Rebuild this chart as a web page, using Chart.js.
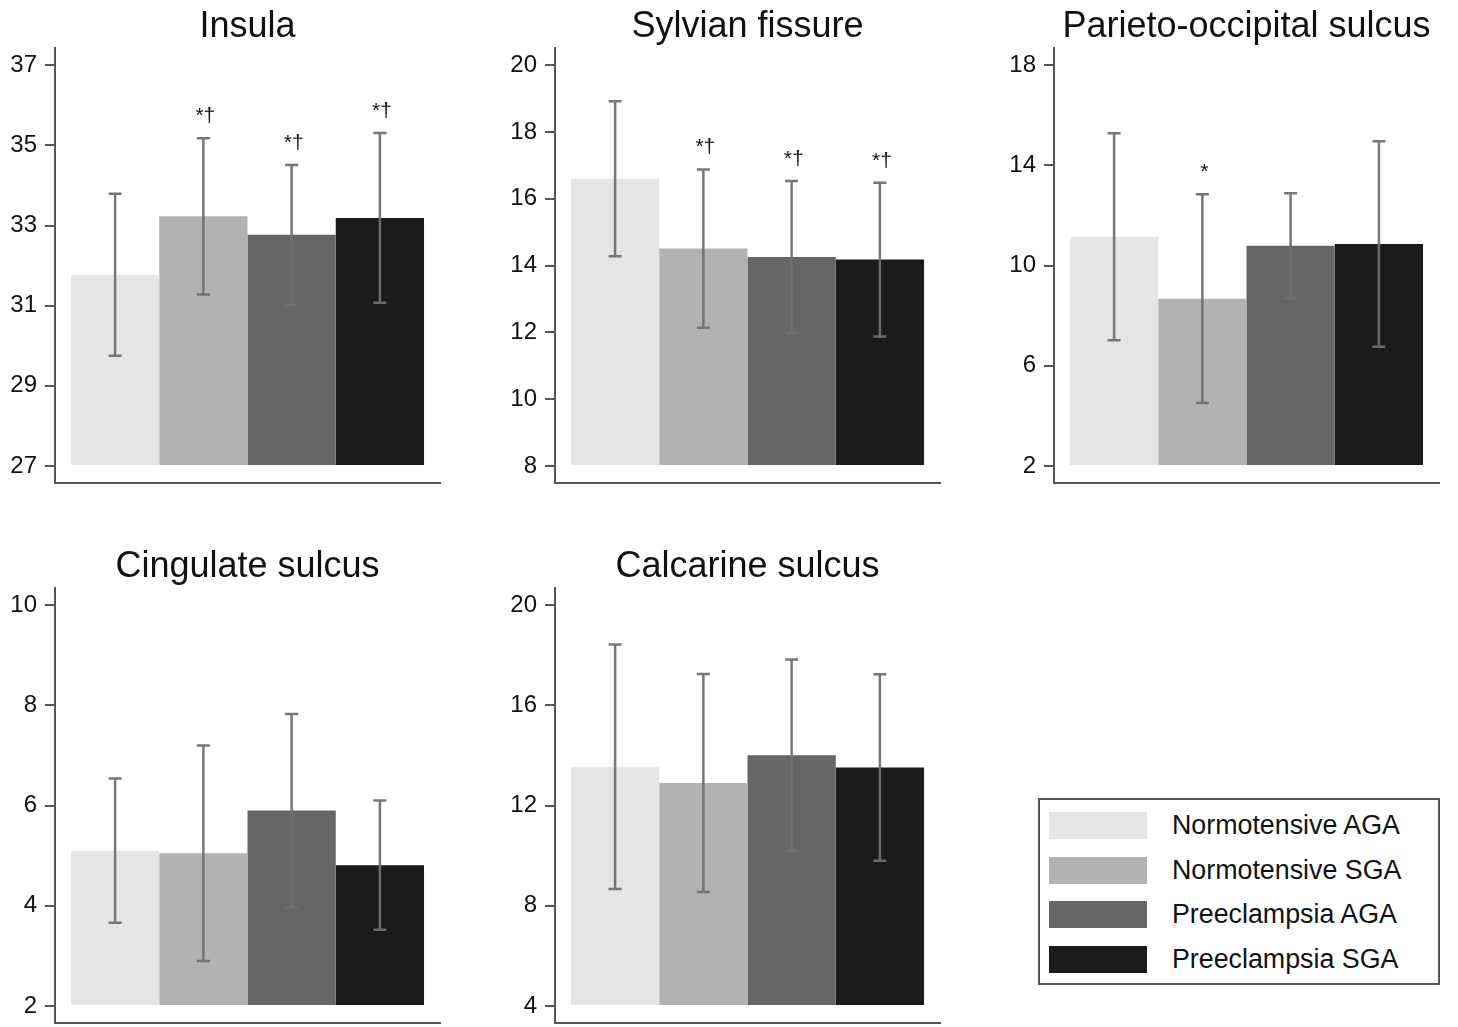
<!DOCTYPE html>
<html>
<head>
<meta charset="utf-8">
<script src="https://cdn.jsdelivr.net/npm/chart.js@4/dist/chart.umd.min.js"></script>
<style>
    html, body { margin: 0; padding: 0; background: #fff; overflow: hidden; }
    #page { position: relative; width: 1458px; height: 1027px; overflow: hidden; }
    .panel { position: absolute; }
    #legend {
        position: absolute; left: 1038px; top: 798px; width: 402px; height: 187px;
        box-sizing: border-box; border: 2px solid #555; background: #fff;
        font-family: "Liberation Sans", Arial, sans-serif; font-size: 26.8px; color: #111;
    }
    .row { position: absolute; left: 9px; height: 27px; display: flex; align-items: center; }
    .swatch { width: 98px; height: 27px; margin-right: 25px; }
</style>
</head>
<body>
<div id="page"></div>
<script>
const groups = ["Normotensive AGA", "Normotensive SGA", "Preeclampsia AGA", "Preeclampsia SGA"];
const colors = ["#e5e5e5", "#b2b2b2", "#666666", "#1b1b1b"];

// mean and SD per group
const insulaMean = [31.77, 33.23, 32.77, 33.19];
const insulaSD = [2.02, 1.95, 1.74, 2.12];
const insulaTicks = [27, 29, 31, 33, 35, 37];
const insulaMarks = ["", "*†", "*†", "*†"];

const sylvianMean = [16.60, 14.51, 14.26, 14.18];
const sylvianSD = [2.32, 2.37, 2.27, 2.30];
const sylvianTicks = [8, 10, 12, 14, 16, 18, 20];
const sylvianMarks = ["", "*†", "*†", "*†"];

const parietoMean = [11.15, 8.68, 10.79, 10.86];
const parietoSD = [4.13, 4.17, 2.10, 4.10];
const parietoTicks = [2, 6, 10, 14, 18];
const parietoMarks = ["", "*", "", ""];

const cingulateMean = [5.10, 5.05, 5.90, 4.81];
const cingulateSD = [1.44, 2.15, 1.93, 1.29];
const cingulateTicks = [2, 4, 6, 8, 10];
const cingulateMarks = ["", "", "", ""];

const calcarineMean = [13.55, 12.90, 14.01, 13.52];
const calcarineSD = [4.88, 4.35, 3.82, 3.72];
const calcarineTicks = [4, 8, 12, 16, 20];
const calcarineMarks = ["", "", "", ""];

const FONT = "'Liberation Sans', Arial, sans-serif";

const panels = [
    { title: "Insula", mean: insulaMean, sd: insulaSD, ticks: insulaTicks, marks: insulaMarks, left: 0, top: 0 },
    { title: "Sylvian fissure", mean: sylvianMean, sd: sylvianSD, ticks: sylvianTicks, marks: sylvianMarks, left: 500, top: 0 },
    { title: "Parieto-occipital sulcus", mean: parietoMean, sd: parietoSD, ticks: parietoTicks, marks: parietoMarks, left: 999, top: 0 },
    { title: "Cingulate sulcus", mean: cingulateMean, sd: cingulateSD, ticks: cingulateTicks, marks: cingulateMarks, left: 0, top: 540 },
    { title: "Calcarine sulcus", mean: calcarineMean, sd: calcarineSD, ticks: calcarineTicks, marks: calcarineMarks, left: 500, top: 540 }
];

// error bars (mean ± SD) and significance marks
const errorBars = {
    id: "errorBars",
    afterDatasetsDraw(chart, args, opts) {
        const ctx = chart.ctx;
        const y = chart.scales.y;
        ctx.save();
        chart.data.datasets.forEach((ds, i) => {
            const el = chart.getDatasetMeta(i).data[0];
            const m = ds.data[0];
            const top = y.getPixelForValue(m + opts.sd[i]);
            const bot = y.getPixelForValue(m - opts.sd[i]);
            ctx.strokeStyle = "rgba(112,112,112,0.95)";
            ctx.lineWidth = 2.5;
            ctx.beginPath();
            ctx.moveTo(el.x, top);
            ctx.lineTo(el.x, bot);
            ctx.moveTo(el.x - 6.5, top);
            ctx.lineTo(el.x + 6.5, top);
            ctx.moveTo(el.x - 6.5, bot);
            ctx.lineTo(el.x + 6.5, bot);
            ctx.stroke();
            if (opts.marks[i]) {
                ctx.fillStyle = "#111";
                ctx.font = "21px " + FONT;
                ctx.textAlign = "center";
                ctx.textBaseline = "alphabetic";
                ctx.fillText(opts.marks[i], el.x + 2, top - 16);
            }
        });
        ctx.restore();
    }
};

const page = document.getElementById("page");

panels.forEach((p) => {
    const div = document.createElement("div");
    div.className = "panel";
    div.style.left = p.left + "px";
    div.style.top = p.top + "px";
    const canvas = document.createElement("canvas");
    canvas.width = 445;
    canvas.height = 506;
    div.appendChild(canvas);
    page.appendChild(div);

    const lo = p.ticks[0];
    const hi = p.ticks[p.ticks.length - 1];
    const span = hi - lo;

    new Chart(canvas, {
        type: "bar",
        data: {
            labels: [""],
            datasets: groups.map((g, i) => ({
                label: g,
                data: [p.mean[i]],
                backgroundColor: colors[i],
                borderWidth: 0,
                base: lo
            }))
        },
        options: {
            responsive: false,
            animation: false,
            devicePixelRatio: 1,
            layout: { padding: { left: 0, right: 5, top: 0, bottom: 0 } },
            datasets: { bar: { categoryPercentage: 0.917, barPercentage: 1 } },
            plugins: {
                legend: { display: false },
                tooltip: { enabled: false },
                title: {
                    display: true,
                    text: p.title,
                    fullSize: false,
                    color: "#111",
                    font: { family: FONT, size: 36, weight: "normal", lineHeight: 1.2 },
                    padding: { top: 5, bottom: 0 }
                },
                errorBars: { sd: p.sd, marks: p.marks }
            },
            scales: {
                x: {
                    grid: { display: false },
                    ticks: { display: false },
                    border: { display: true, color: "#555", width: 2 },
                    afterFit: (s) => { s.height = 23.3; }
                },
                y: {
                    min: lo - span * 0.0417,
                    max: hi + span * 0.0424,
                    afterBuildTicks: (s) => { s.ticks = p.ticks.map((v) => ({ value: v })); },
                    ticks: {
                        color: "#111",
                        padding: 8,
                        font: { family: FONT, size: 24 },
                        callback: (v) => String(v)
                    },
                    grid: { drawOnChartArea: false, drawTicks: true, tickLength: 10, color: "#555", lineWidth: 2 },
                    border: { color: "#555", width: 2 },
                    afterFit: (s) => { s.width = 55; }
                }
            }
        },
        plugins: [errorBars]
    });
});

// legend box
const legend = document.createElement("div");
legend.id = "legend";
groups.forEach((g, i) => {
    const row = document.createElement("div");
    row.className = "row";
    row.style.top = (12 + i * 44.5) + "px";
    const sw = document.createElement("div");
    sw.className = "swatch";
    sw.style.background = colors[i];
    const label = document.createElement("span");
    label.textContent = g;
    row.appendChild(sw);
    row.appendChild(label);
    legend.appendChild(row);
});
page.appendChild(legend);
</script>
</body>
</html>
